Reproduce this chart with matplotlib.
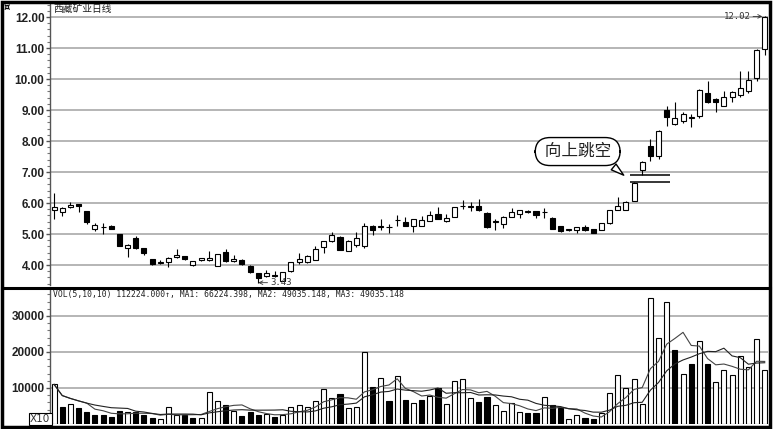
import numpy as np
import pandas as pd
import matplotlib
matplotlib.use('Agg')
import matplotlib.pyplot as plt
from matplotlib.patches import Rectangle
from matplotlib.lines import Line2D
from matplotlib.ticker import MultipleLocator

# daily candles, 西藏矿业
opens = [5.78, 5.70, 5.86, 5.97, 5.73, 5.16, 5.21, 5.26, 5.00, 4.55,
         4.86, 4.54, 4.19, 4.08, 4.09, 4.26, 4.28, 3.99, 4.16, 4.16,
         3.98, 4.43, 4.12, 4.16, 3.98, 3.73, 3.65, 3.69, 3.50, 3.80,
         4.09, 4.09, 4.16, 4.59, 4.76, 4.91, 4.46, 4.64, 4.62, 5.27,
         5.24, 5.21, 5.44, 5.38, 5.25, 5.27, 5.43, 5.65, 5.41, 5.56,
         5.89, 5.86, 5.91, 5.68, 5.38, 5.32, 5.56, 5.63, 5.71, 5.74,
         5.70, 5.53, 5.26, 5.13, 5.13, 5.23, 5.16, 5.13, 5.34, 5.78,
         5.78, 6.06, 7.05, 7.84, 7.52, 9.01, 8.55, 8.66, 8.75, 8.82,
         9.54, 9.36, 9.14, 9.43, 9.48, 9.62, 10.02, 10.96]
highs = [6.32, 5.86, 6.04, 5.98, 5.74, 5.34, 5.34, 5.28, 5.01, 4.68,
         4.92, 4.55, 4.20, 4.17, 4.25, 4.52, 4.30, 4.13, 4.24, 4.46,
         4.36, 4.52, 4.32, 4.18, 3.99, 3.74, 3.84, 3.81, 3.78, 4.10,
         4.39, 4.32, 4.62, 4.78, 5.05, 4.93, 4.80, 5.07, 5.34, 5.30,
         5.48, 5.32, 5.62, 5.56, 5.50, 5.59, 5.75, 5.86, 5.65, 5.88,
         6.11, 6.03, 6.12, 5.70, 5.47, 5.58, 5.84, 5.78, 5.76, 5.75,
         5.84, 5.54, 5.27, 5.16, 5.22, 5.28, 5.17, 5.36, 5.78, 6.20,
         6.05, 6.68, 7.34, 8.08, 8.34, 9.14, 9.27, 8.95, 8.87, 9.68,
         9.95, 9.38, 9.60, 9.62, 10.27, 10.25, 10.96, 12.02]
lows = [5.48, 5.58, 5.84, 5.72, 5.33, 5.11, 5.00, 5.15, 4.60, 4.25,
        4.52, 4.32, 4.00, 4.02, 3.93, 4.24, 4.17, 3.97, 4.14, 4.14,
        3.96, 4.10, 4.10, 4.00, 3.75, 3.43, 3.60, 3.60, 3.47, 3.78,
        4.03, 4.08, 4.15, 4.38, 4.74, 4.48, 4.45, 4.57, 4.56, 4.98,
        5.14, 5.03, 5.27, 5.26, 5.08, 5.26, 5.42, 5.47, 5.40, 5.55,
        5.80, 5.73, 5.75, 5.20, 5.14, 5.20, 5.55, 5.53, 5.68, 5.53,
        5.53, 5.15, 5.05, 5.11, 5.03, 5.11, 5.02, 5.12, 5.33, 5.76,
        5.76, 6.05, 6.90, 7.35, 7.43, 8.50, 8.52, 8.57, 8.46, 8.73,
        9.24, 8.92, 9.12, 9.25, 9.41, 9.55, 9.95, 10.77]
closes = [5.86, 5.83, 5.94, 5.89, 5.38, 5.30, 5.22, 5.17, 4.62, 4.66,
          4.54, 4.40, 4.02, 4.09, 4.23, 4.32, 4.19, 4.12, 4.21, 4.21,
          4.35, 4.12, 4.19, 4.02, 3.77, 3.58, 3.73, 3.65, 3.76, 4.09,
          4.19, 4.30, 4.52, 4.76, 4.98, 4.50, 4.78, 4.86, 5.27, 5.14,
          5.25, 5.22, 5.45, 5.27, 5.48, 5.45, 5.62, 5.48, 5.52, 5.86,
          5.90, 5.90, 5.76, 5.23, 5.41, 5.56, 5.71, 5.77, 5.72, 5.61,
          5.71, 5.16, 5.11, 5.14, 5.21, 5.12, 5.04, 5.35, 5.76, 5.89,
          6.03, 6.66, 7.32, 7.52, 8.32, 8.77, 8.74, 8.87, 8.77, 9.66,
          9.26, 9.26, 9.43, 9.57, 9.70, 9.97, 10.94, 12.00]
volumes = [11000, 4800, 5500, 4400, 3300, 2600, 2600, 2000, 3600, 3400,
           3400, 2500, 1600, 1400, 4600, 2600, 2600, 1700, 1700, 8800,
           6500, 5300, 3600, 2300, 3400, 2500, 2700, 1900, 2500, 4600,
           5300, 4700, 6500, 9800, 7300, 8300, 4400, 4600, 20000, 10400,
           12700, 6500, 13200, 6700, 5800, 6700, 7800, 10100, 5500, 12000,
           12500, 7200, 6200, 7400, 5300, 3600, 5800, 3200, 3000, 3000,
           7400, 5300, 4400, 1300, 2500, 1600, 1300, 3000, 8700, 13700,
           10100, 12600, 5500, 34900, 23900, 34000, 20500, 14000, 16700, 23000,
           16700, 11800, 15100, 13500, 19000, 15800, 23700, 14900]

title = '西藏矿业日线'
vol_header = 'VOL(5,10,10) 112224.000↑, MA1: 66224.398, MA2: 49035.148, MA3: 49035.148'
price_ticks = [4, 5, 6, 7, 8, 9, 10, 11, 12]
vol_ticks = [10000, 20000, 30000]
gap_day = 72          # first day above the gap
note = ' 向上跳空 '

W, H = 775, 429
fig = plt.figure(figsize=(W / 100, H / 100), dpi=100)
fig.patch.set_facecolor('white')

o = np.array(opens); h = np.array(highs); l = np.array(lows); c = np.array(closes)
v = np.array(volumes)
x = np.arange(len(c))

ax1 = fig.add_axes([50 / W, 1 - 285 / H, 718 / W, 281 / H])
ax2 = fig.add_axes([50 / W, 1 - 424 / H, 718 / W, 135 / H])

for ax in (ax1, ax2):
    for s in ('top', 'right', 'bottom'):
        ax.spines[s].set_visible(False)
    ax.spines['left'].set_color('#555555')
    ax.spines['left'].set_linewidth(1.0)
    ax.set_xlim(-0.5, 87.4)
    ax.set_xticks([])
    ax.yaxis.grid(True, color='#b0b0b0', lw=1.3)
    ax.set_axisbelow(True)
    ax.tick_params(axis='y', which='major', length=3, width=1, color='#555555', pad=1,
                   labelsize=8.5, labelcolor='#222222')
    ax.tick_params(axis='y', which='minor', length=2, width=0.8, color='#777777')

# price panel
ax1.set_ylim(3.355, 12.42)
ax1.set_yticks(price_ticks)
ax1.set_yticklabels(['%.2f' % p for p in price_ticks], fontweight='bold', family='Liberation Sans')
ax1.yaxis.set_minor_locator(MultipleLocator(0.2))

up = c >= o
ax1.vlines(x, l, h, color='black', lw=0.8, zorder=2)
body = np.maximum(np.abs(c - o), 0.02)
ax1.bar(x, body, bottom=np.minimum(o, c), width=0.62,
        color=np.where(up, 'white', 'black'), edgecolor='black', linewidth=0.8, zorder=3)

# gap lines
ax1.hlines([h[gap_day - 1], l[gap_day]], gap_day - 1.5, gap_day + 3.4, color='black', lw=1.1, zorder=4)

# callout
ax1.annotate(note, xy=(gap_day - 2, (h[gap_day - 1] + l[gap_day]) / 2 + 0.05),
             xytext=(gap_day - 7.9, 7.66), ha='center', va='center', fontsize=12,
             family=['Noto Sans CJK SC'], color='#222222',
             bbox=dict(boxstyle='round,pad=0.33,rounding_size=0.9', fc='white', ec='black', lw=1.0),
             arrowprops=dict(arrowstyle='wedge,tail_width=0.45,shrink_factor=0.5',
                             fc='white', ec='black', lw=1.0, relpos=(0.84, 0.12)), zorder=6)

# high / low labels
hi = int(np.argmax(h)); lo = int(np.argmin(l))
ax1.annotate('%.2f' % h[hi], xy=(hi - 0.3, h[hi]), xytext=(-12, 0), textcoords='offset pixels',
             ha='right', va='center', fontsize=6.5, family='DejaVu Sans Mono', color='#333333',
             arrowprops=dict(arrowstyle='->', lw=0.6, color='#333333', shrinkA=0, shrinkB=0))
ax1.annotate('%.2f' % l[lo], xy=(lo, l[lo]), xytext=(12, 0), textcoords='offset pixels',
             ha='left', va='center', fontsize=6.5, family='DejaVu Sans Mono', color='#333333',
             arrowprops=dict(arrowstyle='->', lw=0.6, color='#333333', shrinkA=0, shrinkB=0))

# volume panel
ax2.set_ylim(0, 37500)
ax2.set_yticks(vol_ticks)
ax2.set_yticklabels([str(t) for t in vol_ticks], fontweight='bold', family='Liberation Sans')
ax2.yaxis.set_minor_locator(MultipleLocator(2000))
vol_up = np.r_[c[0] >= o[0], c[1:] >= c[:-1]]
ax2.bar(x, v, width=0.62, color=np.where(vol_up, 'white', 'black'),
        edgecolor='black', linewidth=0.8, zorder=3)
ma5 = pd.Series(v).rolling(5, min_periods=1).mean()
ma10 = pd.Series(v).rolling(10, min_periods=1).mean()
ax2.plot(x, ma5, color='#444444', lw=0.8, zorder=4)
ax2.plot(x, ma10, color='#222222', lw=0.8, zorder=4)

# texts and frame
fig.text(53 / W, 1 - 9 / H, title, fontsize=7, family=['Noto Sans CJK SC'], va='center', color='#222222')
fig.text(4 / W, 1 - 7 / H, '¤', fontsize=7, va='center', fontweight='bold')
fig.text(53 / W, 1 - 294 / H, vol_header, fontsize=5.8, family='DejaVu Sans Mono',
         va='center', color='#222222')
fig.text(30 / W, 1 - 419 / H, 'X10', fontsize=7.5, va='center', color='#333333',
         bbox=dict(fc='white', ec='black', lw=0.8, pad=1))

fig.add_artist(Rectangle((1.5 / W, 2 / H), 768 / W, 425 / H, transform=fig.transFigure,
                         fill=False, ec='black', lw=2.5))
fig.add_artist(Line2D([2 / W, 770 / W], [1 - 287.5 / H, 1 - 287.5 / H], transform=fig.transFigure,
                      color='black', lw=2.2))

fig.savefig('out.png', dpi=100)
